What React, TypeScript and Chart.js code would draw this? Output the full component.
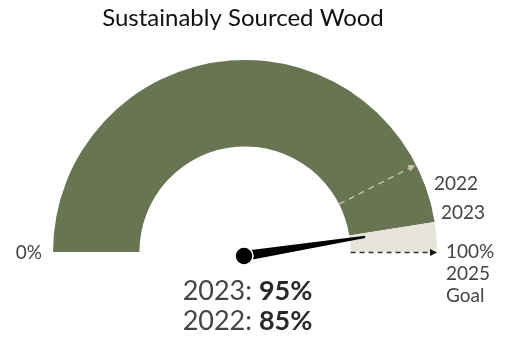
import React, { useEffect, useRef } from "react";
import { Chart, registerables } from "chart.js";

Chart.register(...registerables);

const title = "Sustainably Sourced Wood";
const categories = ["Sourced", "Remaining"];
const values2023 = [95, 5];
const value2022 = 85;
const goalValue = 100;
const years = ["2023", "2022"];
const edgeLabels = ["0%", "100%", "2025", "Goal"];

const GREEN = "#687452";
const BEIGE = "#e7e5da";
const TEXT = "#444444";
const FONT = "Lato, 'Open Sans', sans-serif";

function angleFor(v: number) {
  return Math.PI + (v / 100) * Math.PI;
}

const overlayPlugin = {
  id: "gaugeOverlay",
  afterDatasetsDraw(chart: any) {
    const arc = chart.getDatasetMeta(0).data[0];
    if (!arc) return;
    const { x: cx, y: cy, innerRadius: ri, outerRadius: ro } = arc;
    const ctx = chart.ctx;
    ctx.save();

    // 2022 dashed marker
    const a22 = angleFor(value2022);
    ctx.strokeStyle = "#c9c5b0";
    ctx.lineWidth = 1.3;
    ctx.setLineDash([6, 5]);
    ctx.beginPath();
    ctx.moveTo(cx + ri * Math.cos(a22), cy + ri * Math.sin(a22));
    ctx.lineTo(cx + (ro - 6) * Math.cos(a22), cy + (ro - 6) * Math.sin(a22));
    ctx.stroke();
    ctx.setLineDash([]);
    drawArrow(ctx, cx, cy, a22, ro - 1, "#c9c5b0");

    // goal dashed line
    const ag = angleFor(goalValue);
    ctx.strokeStyle = "#333";
    ctx.lineWidth = 1.5;
    ctx.setLineDash([5, 4]);
    ctx.beginPath();
    ctx.moveTo(cx + ri * Math.cos(ag), cy + 0.5);
    ctx.lineTo(cx + (ro - 6) * Math.cos(ag), cy + 0.5);
    ctx.stroke();
    ctx.setLineDash([]);
    drawArrow(ctx, cx, cy + 0.5, ag, ro, "#111");

    // needle
    const an = angleFor(values2023[0]);
    const nx = cx - 1;
    const ny = cy + 4;
    const len = ri + 17;
    const perp = an + Math.PI / 2;
    ctx.fillStyle = "#000";
    ctx.beginPath();
    ctx.moveTo(nx + 5 * Math.cos(perp), ny + 5 * Math.sin(perp));
    ctx.lineTo(nx + len * Math.cos(an) + 1.2 * Math.cos(perp), ny + len * Math.sin(an) + 1.2 * Math.sin(perp));
    ctx.lineTo(nx + len * Math.cos(an) - 1.2 * Math.cos(perp), ny + len * Math.sin(an) - 1.2 * Math.sin(perp));
    ctx.lineTo(nx - 5 * Math.cos(perp), ny - 5 * Math.sin(perp));
    ctx.closePath();
    ctx.fill();
    ctx.beginPath();
    ctx.arc(nx, ny, 9, 0, Math.PI * 2);
    ctx.fill();
    ctx.strokeStyle = "#fff";
    ctx.lineWidth = 1.5;
    ctx.stroke();

    ctx.restore();
  },
  afterDraw(chart: any) {
    const arc = chart.getDatasetMeta(0).data[0];
    if (!arc) return;
    const { x: cx, y: cy } = arc;
    const ctx = chart.ctx;
    ctx.save();
    ctx.textBaseline = "middle";

    ctx.fillStyle = "#111";
    ctx.textAlign = "center";
    ctx.font = `24px ${FONT}`;
    ctx.fillText(title, 243, 18);

    ctx.fillStyle = TEXT;
    ctx.font = `19px ${FONT}`;
    ctx.textAlign = "right";
    ctx.fillText(edgeLabels[0], 42, cy + 1);
    ctx.textAlign = "left";
    ctx.fillText(years[1], 434, 184);
    ctx.fillText(years[0], 441, 213);
    ctx.fillText(edgeLabels[1], 446, 252);
    ctx.fillText(edgeLabels[2], 446, 274);
    ctx.fillText(edgeLabels[3], 446, 296);

    const lines = [
      [years[0] + ": ", values2023[0] + "%"],
      [years[1] + ": ", value2022 + "%"],
    ];
    const ys = [291, 321];
    lines.forEach(([a, b], i) => {
      ctx.font = `27px ${FONT}`;
      const wa = ctx.measureText(a).width;
      ctx.font = `bold 27px ${FONT}`;
      const wb = ctx.measureText(b).width;
      const x0 = 247.5 - (wa + wb) / 2;
      ctx.textAlign = "left";
      ctx.fillStyle = TEXT;
      ctx.font = `27px ${FONT}`;
      ctx.fillText(a, x0, ys[i]);
      ctx.fillStyle = "#2a2a2a";
      ctx.font = `bold 27px ${FONT}`;
      ctx.fillText(b, x0 + wa, ys[i]);
    });
    ctx.restore();
  },
};

function drawArrow(ctx: any, cx: number, cy: number, a: number, r: number, color: string) {
  const tx = cx + r * Math.cos(a);
  const ty = cy + r * Math.sin(a);
  const bx = cx + (r - 7) * Math.cos(a);
  const by = cy + (r - 7) * Math.sin(a);
  const p = a + Math.PI / 2;
  ctx.fillStyle = color;
  ctx.beginPath();
  ctx.moveTo(tx, ty);
  ctx.lineTo(bx + 3.5 * Math.cos(p), by + 3.5 * Math.sin(p));
  ctx.lineTo(bx - 3.5 * Math.cos(p), by - 3.5 * Math.sin(p));
  ctx.closePath();
  ctx.fill();
}

export default function App() {
  const ref = useRef<HTMLCanvasElement>(null);
  useEffect(() => {
    if (!ref.current) return;
    const chart = new Chart(ref.current, {
      type: "doughnut",
      data: {
        labels: categories,
        datasets: [
          {
            data: values2023,
            backgroundColor: [GREEN, BEIGE],
            borderWidth: 0,
          },
        ],
      },
      options: {
        responsive: false,
        animation: false,
        rotation: -90,
        circumference: 180,
        cutout: "55%",
        layout: { padding: { left: 53, right: 68, top: 60, bottom: 85 } },
        plugins: {
          legend: { display: false },
          tooltip: { enabled: false },
          title: { display: false },
        },
      },
      plugins: [overlayPlugin],
    });
    return () => chart.destroy();
  }, []);
  return (
    <div style={{ position: "fixed", left: 0, top: 0, width: 505, height: 337, background: "#fff" }}>
      <canvas ref={ref} width={505} height={337} />
    </div>
  );
}
